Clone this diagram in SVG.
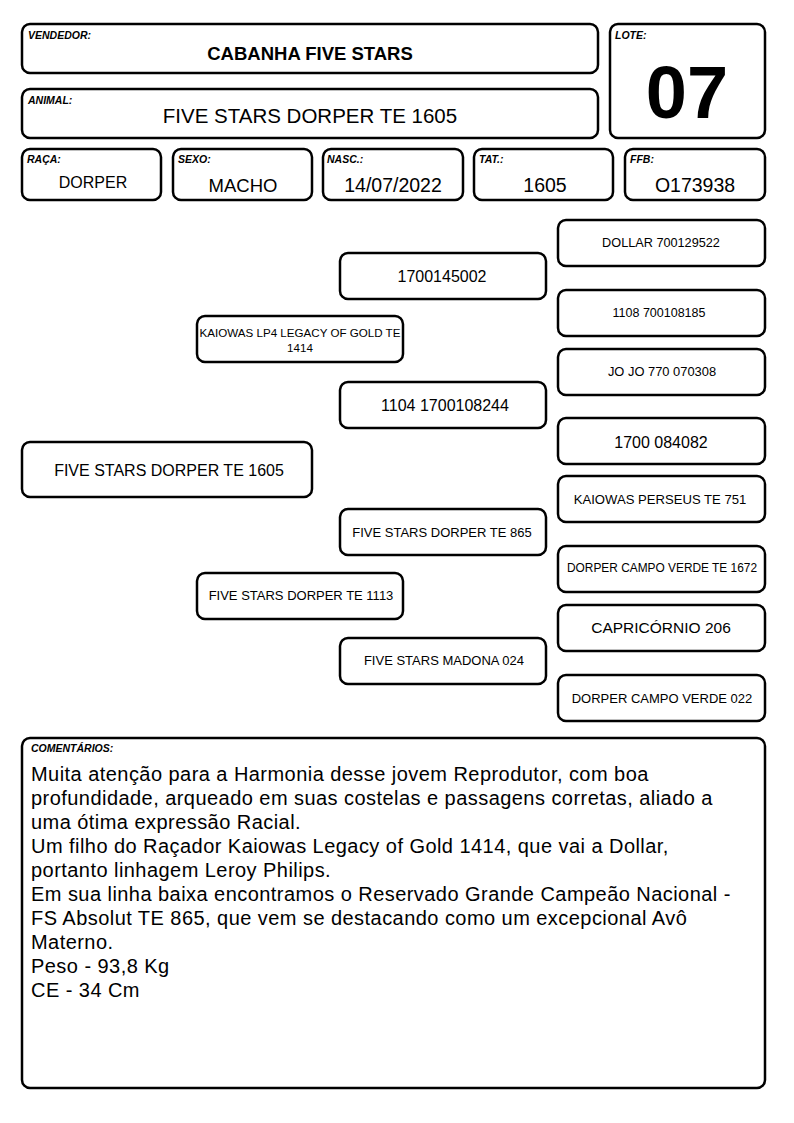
<svg xmlns="http://www.w3.org/2000/svg" width="794" height="1123" viewBox="0 0 794 1123">
<style>
rect.b{fill:#fff;stroke:#000;stroke-width:2.5}
text{font-family:"Liberation Sans",Arial,sans-serif;fill:#000}
.lbl{font-size:10.5px;font-weight:bold;font-style:italic}
.c{text-anchor:middle}
.cm{font-size:20px;letter-spacing:0.45px}
</style>
<rect width="794" height="1123" fill="#fff"/>
<g id="vendedor"><rect class="b" x="22" y="24" width="576" height="49" rx="8"/><text class="lbl" x="28" y="38.5">VENDEDOR:</text><text class="c" x="310" y="59.5" font-size="18.5" font-weight="bold">CABANHA FIVE STARS</text></g>
<g id="lote"><rect class="b" x="610" y="24" width="155" height="114" rx="8"/><text class="lbl" x="615" y="38.5">LOTE:</text><text class="c" x="687" y="118" font-size="74" font-weight="bold">07</text></g>
<g id="animal"><rect class="b" x="22" y="89" width="576" height="49" rx="8"/><text class="lbl" x="28" y="103.5">ANIMAL:</text><text class="c" x="310" y="122.5" font-size="20.5">FIVE STARS DORPER TE 1605</text></g>
<g id="raca"><rect class="b" x="22" y="149" width="139" height="51" rx="8"/><text class="lbl" x="27" y="162.5">RAÇA:</text><text class="c" x="93" y="187.5" font-size="16">DORPER</text></g>
<g id="sexo"><rect class="b" x="173" y="149" width="139" height="51" rx="8"/><text class="lbl" x="178" y="162.5">SEXO:</text><text class="c" x="243" y="192" font-size="18.5">MACHO</text></g>
<g id="nasc"><rect class="b" x="323" y="149" width="140" height="51" rx="8"/><text class="lbl" x="327" y="162.5">NASC.:</text><text class="c" x="393" y="192" font-size="19.5">14/07/2022</text></g>
<g id="tat"><rect class="b" x="474" y="149" width="139" height="51" rx="8"/><text class="lbl" x="479" y="162.5">TAT.:</text><text class="c" x="545" y="192" font-size="19.5">1605</text></g>
<g id="ffb"><rect class="b" x="625" y="149" width="140" height="51" rx="8"/><text class="lbl" x="630" y="162.5">FFB:</text><text class="c" x="695" y="192" font-size="19.5">O173938</text></g>
<g id="connectors"></g>
<g id="p-main"><rect class="b" x="22" y="442" width="290" height="55" rx="8"/><text class="c" x="169" y="476" font-size="16">FIVE STARS DORPER TE 1605</text></g>
<g id="p-sire"><rect class="b" x="197" y="316" width="206" height="46" rx="8"/><text class="c" x="300" y="337" font-size="11.6">KAIOWAS LP4 LEGACY OF GOLD TE</text><text class="c" x="300" y="352" font-size="11.6">1414</text></g>
<g id="p-dam"><rect class="b" x="197" y="573" width="206" height="46" rx="8"/><text class="c" x="301" y="600" font-size="13">FIVE STARS DORPER TE 1113</text></g>
<g id="p-ss"><rect class="b" x="340" y="253" width="206" height="46" rx="8"/><text class="c" x="442" y="282" font-size="16">1700145002</text></g>
<g id="p-sd"><rect class="b" x="340" y="382" width="206" height="46" rx="8"/><text class="c" x="445" y="411" font-size="16">1104 1700108244</text></g>
<g id="p-ds"><rect class="b" x="340" y="509" width="206" height="46" rx="8"/><text class="c" x="442" y="537" font-size="13">FIVE STARS DORPER TE 865</text></g>
<g id="p-dd"><rect class="b" x="340" y="638" width="206" height="46" rx="8"/><text class="c" x="444" y="665" font-size="13">FIVE STARS MADONA 024</text></g>
<g id="p-sss"><rect class="b" x="558" y="220" width="207" height="46" rx="8"/><text class="c" x="661" y="247" font-size="12.7">DOLLAR 700129522</text></g>
<g id="p-ssd"><rect class="b" x="558" y="290" width="207" height="46" rx="8"/><text class="c" x="659" y="317" font-size="12.5">1108 700108185</text></g>
<g id="p-sds"><rect class="b" x="558" y="349" width="207" height="46" rx="8"/><text class="c" x="662" y="376" font-size="12.9">JO JO 770 070308</text></g>
<g id="p-sdd"><rect class="b" x="558" y="418" width="207" height="46" rx="8"/><text class="c" x="661" y="447.5" font-size="16">1700 084082</text></g>
<g id="p-dss"><rect class="b" x="558" y="476" width="207" height="46" rx="8"/><text class="c" x="660" y="504" font-size="13.1">KAIOWAS PERSEUS TE 751</text></g>
<g id="p-dsd"><rect class="b" x="558" y="546" width="207" height="46" rx="8"/><text class="c" x="662" y="572" font-size="11.9">DORPER CAMPO VERDE TE 1672</text></g>
<g id="p-dds"><rect class="b" x="558" y="605" width="207" height="46" rx="8"/><text class="c" x="661" y="633" font-size="15.5">CAPRICÓRNIO 206</text></g>
<g id="p-ddd"><rect class="b" x="558" y="675" width="207" height="46" rx="8"/><text class="c" x="662" y="703" font-size="13">DORPER CAMPO VERDE 022</text></g>
<g id="comentarios"><rect class="b" x="22" y="738" width="743" height="350" rx="8"/><text class="lbl" x="31" y="752">COMENTÁRIOS:</text>
<text class="cm" x="31" y="780.5">Muita atenção para a Harmonia desse jovem Reprodutor, com boa</text>
<text class="cm" x="31" y="804.5">profundidade, arqueado em suas costelas e passagens corretas, aliado a</text>
<text class="cm" x="31" y="828.5">uma ótima expressão Racial.</text>
<text class="cm" x="31" y="852.5">Um filho do Raçador Kaiowas Legacy of Gold 1414, que vai a Dollar,</text>
<text class="cm" x="31" y="876.5">portanto linhagem Leroy Philips.</text>
<text class="cm" x="31" y="900.5">Em sua linha baixa encontramos o Reservado Grande Campeão Nacional -</text>
<text class="cm" x="31" y="924.5">FS Absolut TE 865, que vem se destacando como um excepcional Avô</text>
<text class="cm" x="31" y="948.5">Materno.</text>
<text class="cm" x="31" y="972.5">Peso - 93,8 Kg</text>
<text class="cm" x="31" y="996.5">CE - 34 Cm</text>
</g>
</svg>
